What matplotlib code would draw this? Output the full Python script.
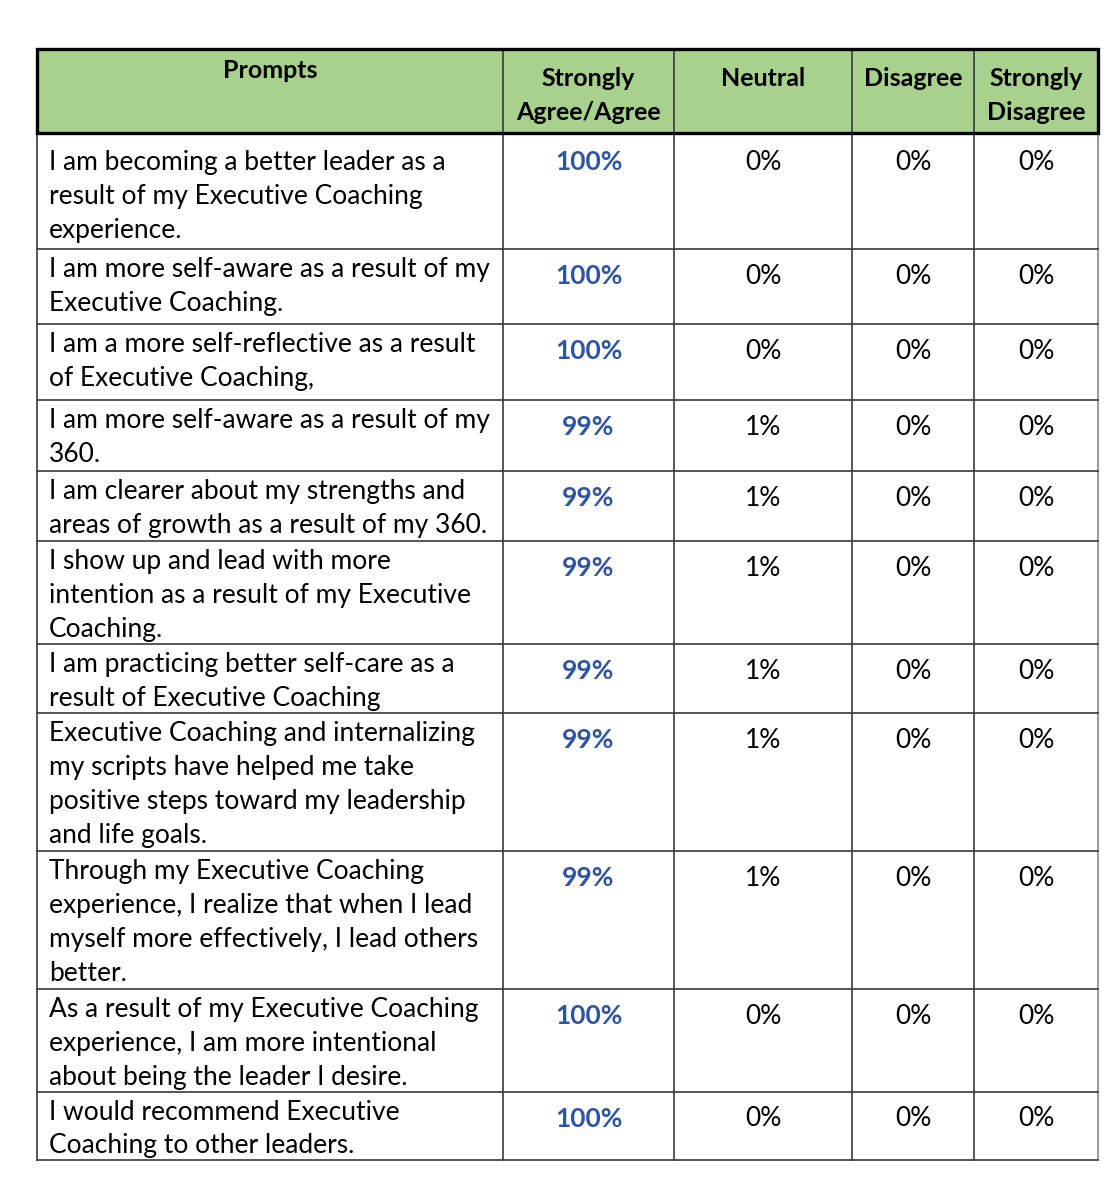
import matplotlib
matplotlib.use("Agg")
import matplotlib.pyplot as plt

plt.rcParams['font.family'] = ['Lato', 'DejaVu Sans']

headers = ["Prompts", "Strongly\nAgree/Agree", "Neutral", "Disagree", "Strongly\nDisagree"]

prompts = [
    ["I am becoming a better leader as a", "result of my Executive Coaching", "experience."],
    ["I am more self-aware as a result of my", "Executive Coaching."],
    ["I am a more self-reflective as a result", "of Executive Coaching,"],
    ["I am more self-aware as a result of my", "360."],
    ["I am clearer about my strengths and", "areas of growth as a result of my 360."],
    ["I show up and lead with more", "intention as a result of my Executive", "Coaching."],
    ["I am practicing better self-care as a", "result of Executive Coaching"],
    ["Executive Coaching and internalizing", "my scripts have helped me take",
     "positive steps toward my leadership", "and life goals."],
    ["Through my Executive Coaching", "experience, I realize that when I lead",
     "myself more effectively, I lead others", "better."],
    ["As a result of my Executive Coaching", "experience, I am more intentional",
     "about being the leader I desire."],
    ["I would recommend Executive", "Coaching to other leaders."],
]

agree = [100, 100, 100, 99, 99, 99, 99, 99, 99, 100, 100]
neutral = [0, 0, 0, 1, 1, 1, 1, 1, 1, 0, 0]
disagree = [0, 0, 0, 0, 0, 0, 0, 0, 0, 0, 0]
strongly_disagree = [0, 0, 0, 0, 0, 0, 0, 0, 0, 0, 0]

# layout in pixels
col_x = [37, 503, 674, 852, 974, 1098]
head_top, head_bot = 49, 133
row_tops = [133, 249, 324, 400, 471, 541, 644, 713, 851, 989, 1092, 1160]
line_h = 34
fs = 19

fig = plt.figure(figsize=(11.19, 11.95), dpi=100)
ax = fig.add_axes([0, 0, 1, 1])
ax.set_xlim(0, 1119)
ax.set_ylim(1195, 0)
ax.axis('off')

green = '#A9D18E'
blue = '#2F55A2'
grid = '#3a3a3a'

# header
ax.add_patch(plt.Rectangle((col_x[0], head_top), col_x[-1] - col_x[0], head_bot - head_top,
                           facecolor=green, edgecolor='none', zorder=1))
for x in col_x[1:-1]:
    ax.plot([x, x], [head_top, row_tops[-1]], color=grid, lw=1.2, zorder=2)
ax.plot([col_x[0], col_x[0]], [head_top, row_tops[-1]], color=grid, lw=1.2, zorder=2)
ax.plot([col_x[-1], col_x[-1]], [head_top, row_tops[-1]], color='#888888', lw=1.2, zorder=2)
for y in row_tops[1:]:
    ax.plot([col_x[0], col_x[-1]], [y, y], color=grid, lw=1.2, zorder=2)
ax.add_patch(plt.Rectangle((col_x[0], head_top), col_x[-1] - col_x[0], head_bot - head_top,
                           facecolor='none', edgecolor='black', lw=2.4, zorder=3))

for i, h in enumerate(headers):
    cx = (col_x[i] + col_x[i + 1]) / 2
    ty = head_top + 21 if i == 0 else head_top + 29
    for k, part in enumerate(h.split("\n")):
        ax.text(cx, ty + k * line_h, part, ha='center', va='center', fontsize=18,
                fontweight='bold', color='black', zorder=4)

for r, lines in enumerate(prompts):
    top = row_tops[r]
    first = top + (29 if r == 0 else 20)
    for k, line in enumerate(lines):
        ax.text(49, first + k * line_h, line, ha='left', va='center', fontsize=fs, color='black')
    py = first + (0 if r == 0 else 7)
    vals = [agree[r], neutral[r], disagree[r], strongly_disagree[r]]
    for c, v in enumerate(vals):
        cx = (col_x[c + 1] + col_x[c + 2]) / 2
        if c == 0:
            ax.text(cx, py, f"{v}%", ha='center', va='center', fontsize=fs,
                    fontweight='bold', color=blue)
        else:
            ax.text(cx, py, f"{v}%", ha='center', va='center', fontsize=fs, color='black')

fig.savefig("out.png", dpi=100)
